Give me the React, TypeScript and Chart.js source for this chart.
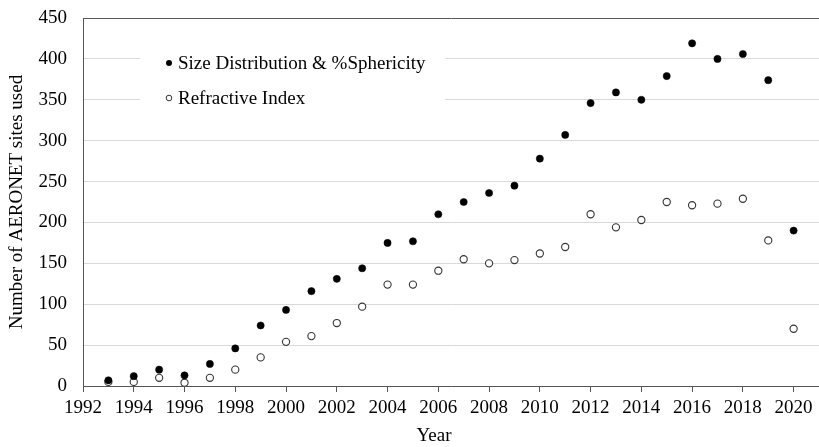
import React, { useEffect, useRef } from "react";
import { Chart, registerables } from "chart.js";

Chart.register(...registerables);

const years = [1993, 1994, 1995, 1996, 1997, 1998, 1999, 2000, 2001, 2002, 2003, 2004, 2005, 2006, 2007, 2008, 2009, 2010, 2011, 2012, 2013, 2014, 2015, 2016, 2017, 2018, 2019, 2020];
const sizeDistribution = [7, 12, 20, 13, 27, 46, 74, 93, 116, 131, 144, 175, 177, 210, 225, 236, 245, 278, 307, 346, 359, 350, 379, 419, 400, 406, 374, 190];
const refractiveIndex = [5, 5, 10, 4, 10, 20, 35, 54, 61, 77, 97, 124, 124, 141, 155, 150, 154, 162, 170, 210, 194, 203, 225, 221, 223, 229, 178, 70];
const seriesLabels = ["Size Distribution & %Sphericity", "Refractive Index"];
const xTitle = "Year";
const yTitle = "Number of AERONET sites used";

const FONT = "'Liberation Serif', 'Times New Roman', serif";

const legendPlugin = {
  id: "insideLegend",
  beforeDatasetsDraw(chart: any) {
    const ctx = chart.ctx;
    ctx.save();
    ctx.fillStyle = "#ffffff";
    ctx.fillRect(140, 45, 305, 70);
    ctx.font = `19px ${FONT}`;
    ctx.textBaseline = "middle";
    ctx.fillStyle = "#000";
    const rows = [63, 98];
    chart.data.datasets.forEach((ds: any, i: number) => {
      const y = rows[i];
      ctx.beginPath();
      ctx.arc(169, y, i === 0 ? 3 : 2.8, 0, Math.PI * 2);
      if (i === 0) {
        ctx.fillStyle = "#000";
        ctx.fill();
      } else {
        ctx.fillStyle = "#fff";
        ctx.fill();
        ctx.lineWidth = 1;
        ctx.strokeStyle = "#333";
        ctx.stroke();
      }
      ctx.fillStyle = "#000";
      ctx.fillText(ds.label, 178, y + 1);
    });
    ctx.textAlign = "center";
    ctx.fillText(xTitle, 434, 436);
    ctx.restore();
  },
};

const zeroPad = (s: any) => {
  s.paddingLeft = 0;
  s.paddingRight = 0;
  s.paddingTop = 0;
  s.paddingBottom = 0;
};

export default function App() {
  const ref = useRef<HTMLCanvasElement>(null);
  useEffect(() => {
    if (!ref.current) return;
    const chart = new Chart(ref.current, {
      type: "scatter",
      data: {
        datasets: [
          {
            label: seriesLabels[0],
            data: years.map((x, i) => ({ x, y: sizeDistribution[i] })),
            pointRadius: 3.6,
            pointBackgroundColor: "#000",
            pointBorderColor: "#000",
            pointBorderWidth: 0.5,
          },
          {
            label: seriesLabels[1],
            data: years.map((x, i) => ({ x, y: refractiveIndex[i] })),
            pointRadius: 3.6,
            pointBackgroundColor: "#fff",
            pointBorderColor: "#333",
            pointBorderWidth: 1.1,
          },
        ],
      },
      options: {
        animation: false,
        responsive: false,
        maintainAspectRatio: false,
        layout: { autoPadding: false, padding: { top: 18, right: 0, left: 0, bottom: 0 } },
        plugins: { legend: { display: false }, tooltip: { enabled: false } },
        scales: {
          x: {
            type: "linear",
            min: 1992,
            max: 2021,
            afterFit: (s: any) => {
              s.height = 61;
              zeroPad(s);
            },
            ticks: {
              stepSize: 2,
              includeBounds: false,
              color: "#000",
              padding: 5,
              font: { family: FONT, size: 19 },
              callback: (v: any) => String(v),
              maxRotation: 0,
              autoSkip: false,
            },
            grid: { drawOnChartArea: false, drawTicks: true, tickLength: 6, color: "#555" },
            border: { display: true, color: "#555", width: 1 },
            title: { display: false },
          },
          y: {
            min: 0,
            max: 450,
            afterFit: (s: any) => {
              s.width = 83;
              zeroPad(s);
            },
            ticks: {
              stepSize: 50,
              color: "#000",
              padding: 16,
              font: { family: FONT, size: 19 },
            },
            grid: {
              drawTicks: false,
              color: (c: any) => (c.tick && c.tick.value === 450 ? "#595959" : "#d9d9d9"),
              lineWidth: 1,
            },
            border: { display: true, color: "#555", width: 1 },
            title: {
              display: true,
              text: yTitle,
              color: "#000",
              font: { family: FONT, size: 19 },
              padding: { top: 6, bottom: 0 },
            },
          },
        },
      },
      plugins: [legendPlugin],
    } as any);
    return () => chart.destroy();
  }, []);
  return (
    <div style={{ position: "fixed", left: 0, top: 0, width: 819, height: 447, background: "#fff" }}>
      <canvas ref={ref} width={819} height={447} style={{ width: 819, height: 447 }} />
    </div>
  );
}
